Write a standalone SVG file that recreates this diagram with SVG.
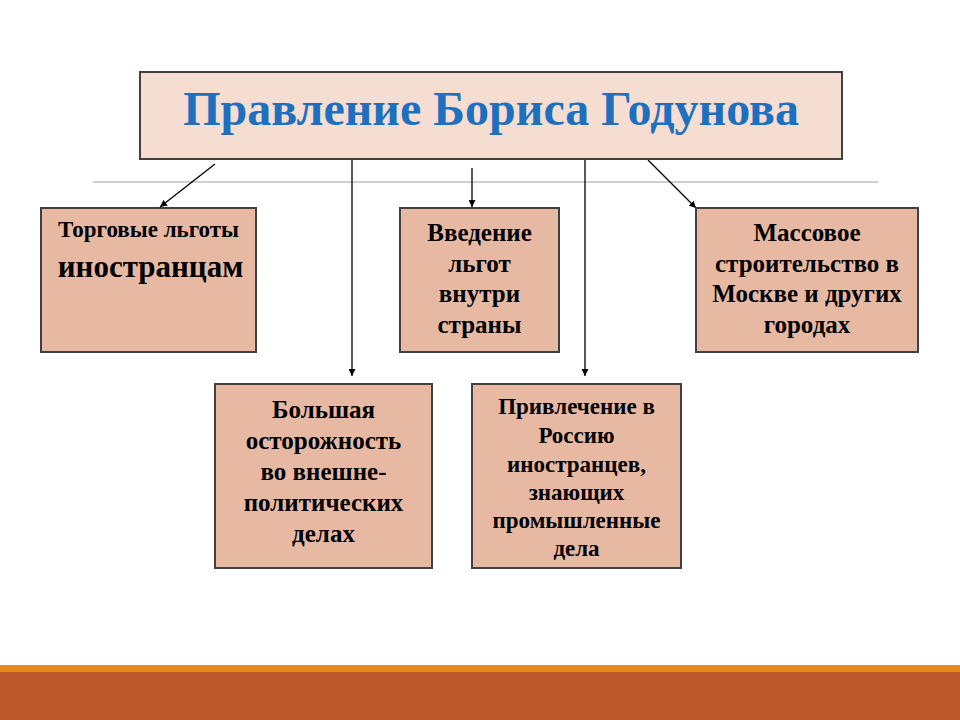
<svg xmlns="http://www.w3.org/2000/svg" width="960" height="720" viewBox="0 0 960 720">
<defs>
<marker id="ah" viewBox="0 0 10 10" refX="10" refY="5" markerWidth="7" markerHeight="7" markerUnits="userSpaceOnUse" orient="auto">
<path d="M0,0 L10,5 L0,10 z" fill="#000"/>
</marker>
<style>
.title{fill:#f5ddd2;stroke:#404040;stroke-width:2}
.box{fill:#e8b9a2;stroke:#404040;stroke-width:2}
.tt{font-family:"Liberation Serif","Times New Roman",serif;font-weight:bold;font-size:48px;fill:#1e6fbe;text-anchor:middle}
.t{font-family:"Liberation Serif","Times New Roman",serif;font-weight:bold;font-size:25px;fill:#000;text-anchor:middle}
.s{font-size:23px}
.c{stroke:#000;stroke-width:1.3;fill:none;marker-end:url(#ah)}
</style>
</defs>
<rect x="0" y="0" width="960" height="720" fill="#fff"/>
<line x1="93" y1="182" x2="878" y2="182" stroke="#a0a0a0" stroke-width="1.2"/>
<g id="connectors">
<line class="c" x1="215" y1="164" x2="160" y2="207"/>
<line class="c" x1="352" y1="160" x2="352" y2="376"/>
<line class="c" x1="472" y1="168" x2="472" y2="207"/>
<line class="c" x1="585" y1="160" x2="585" y2="376"/>
<line class="c" x1="648" y1="160" x2="696" y2="208"/>
</g>
<g id="root">
<rect class="title" x="140" y="72" width="702" height="87"/>
<text class="tt" x="491" y="125">Правление Бориса Годунова</text>
</g>
<g id="n1">
<rect class="box" x="41" y="208" width="215" height="144"/>
<text class="t s" x="148.5" y="237">Торговые льготы</text>
<text class="t" x="150.5" y="277" style="font-size:31px">иностранцам</text>
</g>
<g id="n2">
<rect class="box" x="400" y="208" width="159" height="144"/>
<text class="t" x="479.5" y="241">Введение</text>
<text class="t" x="479.5" y="272">льгот</text>
<text class="t" x="479.5" y="302">внутри</text>
<text class="t" x="479.5" y="333">страны</text>
</g>
<g id="n3">
<rect class="box" x="696" y="208" width="222" height="144"/>
<text class="t" x="807" y="241">Массовое</text>
<text class="t" x="807" y="272">строительство в</text>
<text class="t" x="807" y="302">Москве и других</text>
<text class="t" x="807" y="333">городах</text>
</g>
<g id="n4">
<rect class="box" x="215" y="384" width="217" height="184"/>
<text class="t" x="323.5" y="418">Большая</text>
<text class="t" x="323.5" y="449">осторожность</text>
<text class="t" x="323.5" y="480">во внешне-</text>
<text class="t" x="323.5" y="511">политических</text>
<text class="t" x="323.5" y="542">делах</text>
</g>
<g id="n5">
<rect class="box" x="472" y="384" width="209" height="184"/>
<text class="t s" x="576.5" y="414">Привлечение в</text>
<text class="t s" x="576.5" y="443">Россию</text>
<text class="t s" x="576.5" y="472">иностранцев,</text>
<text class="t s" x="576.5" y="500">знающих</text>
<text class="t s" x="576.5" y="528">промышленные</text>
<text class="t s" x="576.5" y="556">дела</text>
</g>
<rect x="0" y="665" width="960" height="7" fill="#e48a1e"/>
<rect x="0" y="672" width="960" height="48" fill="#bd582c"/>
</svg>
